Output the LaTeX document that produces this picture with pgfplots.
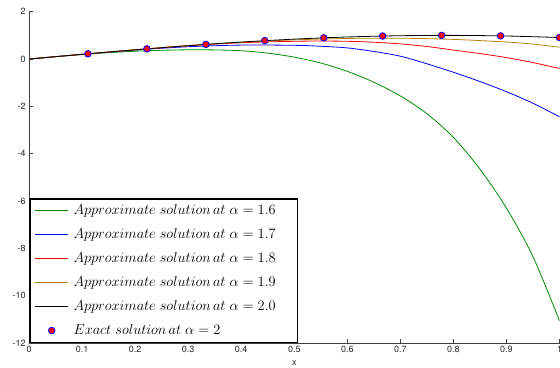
\documentclass[border=0pt]{standalone}
\usepackage{pgfplots}
\pgfplotsset{compat=1.18}
\usepackage{fontspec}
\setmainfont{TeX Gyre Heros}
\definecolor{mgreen}{rgb}{0.0,0.55,0.0}
\definecolor{morange}{rgb}{0.72,0.5,0.05}
\pgfplotstableread{
x y
0 0
0.05 0.10
0.1 0.19
0.15 0.27
0.2 0.33
0.25 0.37
0.3 0.39
0.35 0.385
0.4 0.35
0.45 0.25
0.5 0.08
0.55 -0.17
0.6 -0.52
0.65 -0.98
0.7 -1.56
0.75 -2.31
0.8 -3.31
0.85 -4.65
0.9 -6.3
0.95 -8.35
1.0 -11.06
}\tabA
\pgfplotstableread{
x y
0 0
0.1 0.2
0.2 0.38
0.3 0.52
0.4 0.59
0.5 0.58
0.55 0.54
0.6 0.47
0.65 0.32
0.7 0.12
0.75 -0.2
0.8 -0.56
0.85 -0.95
0.9 -1.38
0.95 -1.87
1.0 -2.44
}\tabB
\pgfplotstableread{
x y
0 0
0.1 0.2
0.2 0.39
0.3 0.56
0.4 0.69
0.5 0.75
0.55 0.76
0.6 0.75
0.65 0.71
0.7 0.64
0.75 0.53
0.8 0.38
0.85 0.23
0.9 0.06
0.95 -0.15
1.0 -0.40
}\tabC
\pgfplotstableread{
x y
0 0
0.1 0.2
0.2 0.39
0.3 0.57
0.4 0.71
0.5 0.81
0.6 0.87
0.7 0.88
0.8 0.83
0.9 0.72
0.95 0.63
1.0 0.50
}\tabD
\pgfplotstableread{
x y
0 0
0.1 0.1987
0.2 0.3894
0.3 0.5646
0.4 0.7174
0.5 0.8415
0.6 0.9320
0.7 0.9854
0.8 0.9996
0.9 0.9738
1.0 0.9093
}\tabE
\pgfplotstableread{
x y
0.1111 0.2199
0.2222 0.4292
0.3333 0.6184
0.4444 0.7791
0.5556 0.8960
0.6667 0.9719
0.7778 0.9998
0.8889 0.9785
1.0 0.9093
}\tabX
\begin{document}
\begin{tikzpicture}
\begin{axis}[
  name=ax,
  scale only axis, width=530bp, height=331bp,
  xmin=0, xmax=1, ymin=-12, ymax=2,
  axis x line*=bottom, axis y line*=left,
  tick align=inside,
  xtick={0,0.1,0.2,0.3,0.4,0.5,0.6,0.7,0.8,0.9,1},
  ytick={-12,-10,-8,-6,-4,-2,0,2},
  /pgf/number format/assume math mode=true,
  tick label style={font=\fontsize{9}{10}\selectfont, text=black!85},
  xlabel={x},
  xlabel style={font=\fontsize{9}{10}\selectfont, text=black!85, at={(rel axis cs:0.5,0)}, anchor=center, yshift=-20.5bp},
  major tick length=4bp,
  axis line style={line width=0.8bp, black!75},
  every tick/.style={line width=0.8bp, black!75},
  legend cell align=left,
  legend style={font=\fontsize{14.8}{16.5}\selectfont, draw=black, line width=1.5bp, inner xsep=5bp, inner ysep=4bp,
    row sep=8.5bp, at={(rel axis cs:0,0)}, anchor=south west,
    /tikz/every odd column/.append style={column sep=3bp}},
  legend image code/.code={\draw[mark repeat=2,mark phase=2] plot coordinates {(0bp,0bp) (16.5bp,0bp) (33bp,0bp)};},
  every axis plot/.append style={line width=0.8bp},
]
\addplot[mgreen, no marks, smooth] table {\tabA};
\addlegendentry{$Approximate\ solution\,at\ \alpha = 1.6$\hspace*{15bp}}
\addplot[blue, no marks, smooth] table {\tabB};
\addlegendentry{$Approximate\ solution\,at\ \alpha = 1.7$}
\addplot[red, no marks, smooth] table {\tabC};
\addlegendentry{$Approximate\ solution\,at\ \alpha = 1.8$}
\addplot[morange, no marks, smooth] table {\tabD};
\addlegendentry{$Approximate\ solution\,at\ \alpha = 1.9$}
\addplot[black, no marks, smooth] table {\tabE};
\addlegendentry{$Approximate\ solution\,at\ \alpha = 2.0$}
\addplot[only marks, mark=*, mark size=3.3bp, mark options={fill=red, draw=blue, line width=0.8bp}] table {\tabX};
\addlegendentry{$Exact\ solution\,at\ \alpha = 2$}
\end{axis}
\pgfresetboundingbox
\useasboundingbox ([xshift=-29bp,yshift=-24.3bp]ax.south west) rectangle ([xshift=0.5bp,yshift=11.7bp]ax.north east);
\end{tikzpicture}
\end{document}
